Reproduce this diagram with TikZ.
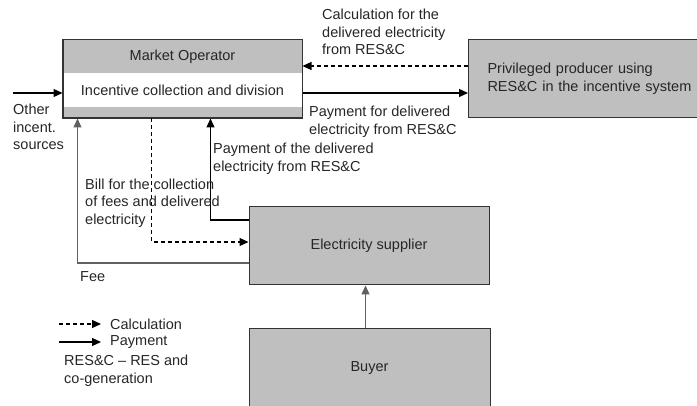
\documentclass[tikz,border=0pt]{standalone}
\usepackage{fontspec}
\setmainfont{Liberation Sans}
\usetikzlibrary{positioning,arrows.meta}
\definecolor{boxgray}{gray}{0.75}
\definecolor{linegray}{gray}{0.38}

\tikzset{
	box/.style={draw=black!80, line width=1pt, fill=boxgray, minimum width=240pt, minimum height=78pt, inner sep=0pt},
	lbl/.style={inner sep=0pt, align=left, anchor=west},
	payarrow/.style={-{Triangle[length=9pt,width=8pt]}, line width=1.2pt},
	calcarrow/.style={payarrow, dash pattern=on 4pt off 3pt},
}

\begin{document}
\begin{tikzpicture}[x=1pt, y=-1pt, font=\fontsize{14.5}{17.5}\selectfont, text=black!85]
	\clip (0,0) rectangle (697,406);
	% boxes
	\node[box, minimum width=239pt] (mo) at (182.5,79) {};
	\node[fill=white, minimum width=238pt, minimum height=34pt, inner sep=0pt] (icd) at (182.5,90) {Incentive collection and division};
	\node (mohead) at (182.5,57) {Market Operator};
	\draw[draw=black!80, line width=1pt] (mo.north west) rectangle (mo.south east);
	\node[box, anchor=west, text width=215pt, align=left, inner xsep=19pt] (prod) at (468,79) {Privileged producer using\\RES\&C in the incentive system};
	\node[box] (es) at (369,246) {Electricity supplier};
	\node[box, minimum width=241pt] (buyer) at (369.5,368) {Buyer};
	% connectors
	\draw[calcarrow] ([yshift=13pt]prod.west) -- ([yshift=13pt]mo.east);
	\draw[payarrow] ([yshift=-14pt]mo.east) -- ([yshift=-14pt]prod.west);
	\coordinate (other) at (13,93);
	\draw[payarrow] (other) -- (other -| mo.west);
	\draw[payarrow, draw=linegray] ([yshift=-17pt]es.west) -| ([xshift=15pt]mo.south west);
	\draw[calcarrow] ([xshift=89pt]mo.south west) |- ([yshift=4pt]es.west);
	\draw[payarrow] ([yshift=26pt]es.west) -| ([xshift=148pt]mo.south west);
	\draw[payarrow, draw=linegray] ([xshift=-4pt]buyer.north) -- ([xshift=-3.5pt]es.south);
	% labels
	\node[lbl] (calclbl) at (322,32) {Calculation for the\\delivered electricity\\from RES\&C};
	\node[lbl] (paylbl) at (309,122) {Payment for delivered\\electricity from RES\&C};
	\node[lbl] (paidlbl) at (213,159) {Payment of the delivered\\electricity from RES\&C};
	\node[lbl] (billlbl) at (85,203) {Bill for the collection\\of fees and delivered\\electricity};
	\node[lbl] (feelbl) at (80,277) {Fee};
	\node[lbl] (otherlbl) at (13,127) {Other\\incent.\\sources};
	% legend
	\node[lbl] (lcalc) at (110,324) {Calculation};
	\node[lbl] (lpay) at (110,342) {Payment};
	\draw[calcarrow] ([xshift=-51pt]lcalc.west) -- ([xshift=-9pt]lcalc.west);
	\draw[payarrow] ([xshift=-51pt]lpay.west) -- ([xshift=-9pt]lpay.west);
	\node[lbl] (abbr) at (64,371) {RES\&C -- RES and\\co-generation};
\end{tikzpicture}
\end{document}
